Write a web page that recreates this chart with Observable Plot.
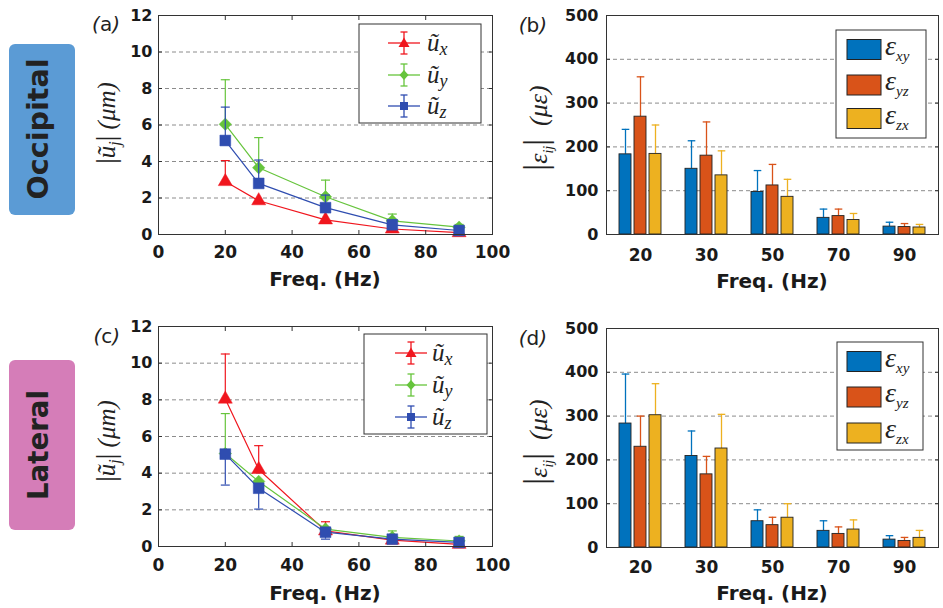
<!DOCTYPE html>
<html><head><meta charset="utf-8">
<script src="https://cdn.jsdelivr.net/npm/d3@7"></script>
<script src="https://cdn.jsdelivr.net/npm/@observablehq/plot@0.6"></script>
<style>
body{margin:0;background:#fff;}
#fig{position:relative;width:943px;height:608px;overflow:hidden;background:#fff;}
#fig > svg{position:absolute;}
</style></head><body><div id="fig"></div>
<script>
// ---------- data ----------
const freqs = [20, 30, 50, 70, 90];
const xTicksLine = [0, 20, 40, 60, 80, 100];
const yTicksLine = [0, 2, 4, 6, 8, 10, 12];
const gridLine = [2, 4, 6, 8, 10];
const yTicksBar = [0, 100, 200, 300, 400, 500];
const gridBar = [100, 200, 300, 400];

// (a) Occipital displacement |u_j| (um); error-bar ends (upper "Hi", lower "Lo")
const aUx = [2.9, 1.85, 0.8, 0.3, 0.1];
const aUxHi = [4.05, null, null, null, null];
const aUy = [6.04, 3.66, 2.07, 0.75, 0.4];
const aUyHi = [8.48, 5.31, 2.98, 1.12, 0.55];
const aUz = [5.15, 2.8, 1.47, 0.53, 0.22];
const aUzHi = [6.98, 4.08, 2.16, 0.8, 0.35];

// (c) Lateral displacement
const cUx = [8.04, 4.2, 0.85, 0.35, 0.12];
const cUxHi = [10.5, 5.5, 1.35, null, null];
const cUy = [5.07, 3.55, 0.95, 0.5, 0.3];
const cUyHi = [7.25, null, null, 0.85, 0.55];
const cUz = [5.04, 3.18, 0.78, 0.4, 0.22];
const cUzLo = [3.35, 2.04, 0.4, null, null];

// (b) Occipital strain |eps_ij| (micro-strain)
const bExy = [183, 150, 97, 38, 18];
const bExyHi = [240, 214, 146, 58, 28];
const bEyz = [269, 180, 112, 42, 17];
const bEyzHi = [360, 257, 160, 58, 25];
const bEzx = [184, 135, 86, 33, 16];
const bEzxHi = [250, 191, 126, 48, 23];

// (d) Lateral strain
const dExy = [283, 209, 60, 38, 18];
const dExyHi = [396, 266, 86, 61, 27];
const dEyz = [230, 167, 51, 31, 15];
const dEyzHi = [300, 208, 69, 47, 23];
const dEzx = [302, 226, 68, 41, 22];
const dEzxHi = [374, 304, 100, 63, 39];

// ---------- styles ----------
const RED = "#f0161e", GREEN = "#66c43c", BLUE = "#2f4db0";
const C_XY = "#0072bd", C_YZ = "#d95319", C_ZX = "#edb120";
const GRID = {stroke: "#8c8c8c", strokeDasharray: "4,3", strokeWidth: 1};
const capSymbol = {draw(ctx, size) { const w = Math.sqrt(size / Math.PI); ctx.moveTo(-w, 0); ctx.lineTo(w, 0); }};
const fig = document.getElementById("fig");

function place(svg, left, top) {
  svg.style.left = left + "px"; svg.style.top = top + "px";
  svg.style.maxWidth = "none"; svg.style.background = "transparent";
  fig.appendChild(svg);
}

function linePanel(series, m, left, top) {
  const marks = [Plot.ruleY(gridLine, GRID)];
  for (const s of series) {
    const data = freqs.map((f, i) => ({f, v: s.v[i], e: s.e[i]}));
    const err = data.filter(d => d.e != null);
    marks.push(Plot.line(data, {x: "f", y: "v", stroke: s.color, strokeWidth: 1.2}));
    marks.push(Plot.ruleX(err, {x: "f", y1: "v", y2: "e", stroke: s.color, strokeWidth: 1.2}));
    marks.push(Plot.dot(err, {x: "f", y: "e", symbol: capSymbol, r: 4.5, stroke: s.color, strokeWidth: 1.2, fill: "none"}));
    marks.push(Plot.dot(data, {x: "f", y: "v", symbol: s.symbol, r: s.r, fill: s.color, stroke: s.color, strokeWidth: 0.5}));
  }
  marks.push(
    Plot.frame({stroke: "#333", strokeWidth: 1}),
    Plot.axisX(xTicksLine, {anchor: "bottom", tickSize: 0, tickPadding: m.xPad, fontSize: 17, label: null}),
    Plot.axisX(xTicksLine, {anchor: "bottom", tickSize: 4, dy: -4, fill: "none", label: null, stroke: "#333"}),
    Plot.axisX(xTicksLine, {anchor: "top", tickSize: 4, dy: 4, fill: "none", label: null, stroke: "#333"}),
    Plot.axisY(yTicksLine, {anchor: "left", tickSize: 0, tickPadding: 6, fontSize: 16, label: null}),
    Plot.axisY(yTicksLine, {anchor: "left", tickSize: 4, dx: 4, fill: "none", label: null, stroke: "#333"}),
    Plot.axisY(yTicksLine, {anchor: "right", tickSize: 4, dx: -4, fill: "none", label: null, stroke: "#333"})
  );
  const svg = Plot.plot({
    width: m.w, height: m.h, marginLeft: m.l, marginRight: m.r, marginTop: m.t, marginBottom: m.b,
    x: {domain: [0, 100]}, y: {domain: [0, 12]},
    style: {fontFamily: "DejaVu Sans", fontWeight: "bold", color: "#1a1a1a", overflow: "visible"},
    marks
  });
  place(svg, left, top);
}

function barPanel(series, m, left, top) {
  const marks = [Plot.ruleY(gridBar, GRID)];
  for (const s of series) {
    const data = freqs.map((f, i) => ({f, v: s.v[i], e: s.e[i]}));
    marks.push(Plot.ruleX(data, {x: "f", y1: "v", y2: "e", stroke: s.color, strokeWidth: 1.3, dx: s.dx}));
    marks.push(Plot.dot(data, {x: "f", y: "e", symbol: capSymbol, r: 3.8, stroke: s.color, strokeWidth: 1.3, fill: "none", dx: s.dx}));
    marks.push(Plot.barY(data, {x: "f", y: "v", fill: s.color, stroke: "#222", strokeWidth: 0.9, dx: s.dx, insetLeft: 27, insetRight: 27}));
  }
  marks.push(
    Plot.frame({stroke: "#333", strokeWidth: 1}),
    Plot.axisX(freqs, {anchor: "bottom", tickSize: 0, tickPadding: m.xPad, fontSize: 17, label: null}),
    Plot.axisY(yTicksBar, {anchor: "left", tickSize: 0, tickPadding: 8, fontSize: 16, label: null}),
    Plot.axisY(yTicksBar, {anchor: "left", tickSize: 4, dx: 4, fill: "none", label: null, stroke: "#333"}),
    Plot.axisY(yTicksBar, {anchor: "right", tickSize: 4, dx: -4, fill: "none", label: null, stroke: "#333"})
  );
  const svg = Plot.plot({
    width: m.w, height: m.h, marginLeft: m.l, marginRight: m.r, marginTop: m.t, marginBottom: m.b,
    x: {type: "band", domain: freqs, padding: 0}, y: {domain: [0, 500]},
    style: {fontFamily: "DejaVu Sans", fontWeight: "bold", color: "#1a1a1a", overflow: "visible"},
    marks
  });
  place(svg, left, top);
}

const lineSeries = (ux, uxE, uy, uyE, uz, uzE) => [
  {v: ux, e: uxE, color: RED, symbol: "triangle", r: 5.2},
  {v: uy, e: uyE, color: GREEN, symbol: "diamond2", r: 5.6},
  {v: uz, e: uzE, color: BLUE, symbol: "square", r: 6.1}
];
const barSeries = (xy, xyE, yz, yzE, zx, zxE) => [
  {v: xy, e: xyE, color: C_XY, dx: -15},
  {v: yz, e: yzE, color: C_YZ, dx: 0},
  {v: zx, e: zxE, color: C_ZX, dx: 15}
];

linePanel(lineSeries(aUx, aUxHi, aUy, aUyHi, aUz, aUzHi), {w: 425, h: 300, l: 63, r: 28, t: 15, b: 66, xPad: 11}, 95, 0);
barPanel(barSeries(bExy, bExyHi, bEyz, bEyzHi, bEzx, bEzxHi), {w: 423, h: 300, l: 86, r: 5, t: 15, b: 66, xPad: 14}, 520, 0);
linePanel(lineSeries(cUx, cUxHi, cUy, cUyHi, cUz, cUzLo), {w: 425, h: 298, l: 63, r: 28, t: 16, b: 62, xPad: 12}, 95, 310);
barPanel(barSeries(dExy, dExyHi, dEyz, dEyzHi, dEzx, dEzxHi), {w: 423, h: 298, l: 86, r: 5, t: 18, b: 61, xPad: 13}, 520, 310);

// ---------- annotations: side boxes, panel letters, axis titles, legends ----------
const SERIF = "Liberation Serif";
function lineLegend(bx, by, bw, bh, ys, lx1, lx2, tx) {
  const subs = ["x", "y", "z"], cols = [RED, GREEN, BLUE];
  let s = `<rect x="${bx}" y="${by}" width="${bw}" height="${bh}" fill="#fff" stroke="#333" stroke-width="1"/>`;
  ys.forEach((y, i) => {
    const c = cols[i], mx = (lx1 + lx2) / 2;
    s += `<line x1="${lx1}" x2="${lx2}" y1="${y}" y2="${y}" stroke="${c}" stroke-width="1.3"/>`;
    s += `<line x1="${mx}" x2="${mx}" y1="${y - 11}" y2="${y + 11}" stroke="${c}" stroke-width="1.3"/>`;
    s += `<line x1="${mx - 3.5}" x2="${mx + 3.5}" y1="${y - 11}" y2="${y - 11}" stroke="${c}" stroke-width="1.3"/>`;
    s += `<line x1="${mx - 3.5}" x2="${mx + 3.5}" y1="${y + 11}" y2="${y + 11}" stroke="${c}" stroke-width="1.3"/>`;
    if (i === 0) s += `<path d="M${mx},${y - 5.5}L${mx + 5.5},${y + 4}L${mx - 5.5},${y + 4}Z" fill="${c}"/>`;
    if (i === 1) s += `<path d="M${mx},${y - 5}L${mx + 4.5},${y}L${mx},${y + 5}L${mx - 4.5},${y}Z" fill="${c}"/>`;
    if (i === 2) s += `<rect x="${mx - 4}" y="${y - 4}" width="8" height="8" fill="${c}"/>`;
    s += `<text x="${tx}" y="${y + 8}" font-family="${SERIF}" font-style="italic" font-size="25" fill="#222">ũ<tspan font-size="18" dy="4">${subs[i]}</tspan></text>`;
  });
  return s;
}
function barLegend(bx, by, bw, bh, ys) {
  const subs = ["xy", "yz", "zx"], cols = [C_XY, C_YZ, C_ZX];
  let s = `<rect x="${bx}" y="${by}" width="${bw}" height="${bh}" fill="#fff" stroke="#333" stroke-width="1"/>`;
  ys.forEach((y, i) => {
    s += `<rect x="847" y="${y - 10}" width="34" height="20" fill="${cols[i]}" stroke="#222" stroke-width="1"/>`;
    s += `<text x="885" y="${y + 5}" font-family="${SERIF}" font-style="italic" font-size="28" fill="#222">ε<tspan font-size="15" dy="6">${subs[i]}</tspan></text>`;
  });
  return s;
}
const uLabel = (x, y) => `<text transform="translate(${x},${y}) rotate(-90)" text-anchor="middle" font-family="${SERIF}" font-size="25" fill="#222"><tspan font-size="28">|</tspan><tspan font-style="italic">ũ</tspan><tspan font-style="italic" font-size="16" dy="5">j</tspan><tspan dy="-5" font-size="28">|</tspan><tspan font-style="italic"> (μm)</tspan></text>`;
const eLabel = (x, y) => `<text transform="translate(${x},${y}) rotate(-90)" text-anchor="middle" font-family="${SERIF}" font-size="26" fill="#222"><tspan font-size="34">|</tspan><tspan font-style="italic">ε</tspan><tspan font-style="italic" font-size="14" dy="6">ij</tspan><tspan dy="-6" font-size="34">|</tspan><tspan font-style="italic" xml:space="preserve">  (με)</tspan></text>`;
const letter = (x, y, l) => `<text x="${x}" y="${y}" text-anchor="end" font-family="DejaVu Sans" font-size="20" fill="#222"><tspan font-style="italic">(</tspan>${l}<tspan font-style="italic">)</tspan></text>`;
const freq = (x, y) => `<text x="${x}" y="${y}" text-anchor="middle" font-family="DejaVu Sans" font-weight="bold" font-size="20" fill="#1a1a1a">Freq. (Hz)</text>`;
const side = (y, h, cy, fill, label, len) =>
  `<rect x="9" y="${y}" width="66" height="${h}" rx="6" fill="${fill}"/>` +
  `<text transform="translate(48,${cy}) rotate(-90)" text-anchor="middle" font-family="DejaVu Sans" font-weight="bold" font-size="29" textLength="${len}" lengthAdjust="spacingAndGlyphs" fill="#222">${label}</text>`;

const ov = `<svg id="overlay" width="943" height="608" style="left:0;top:0" xmlns="http://www.w3.org/2000/svg">
${side(44, 171, 129, "#5b9bd5", "Occipital", 141)}
${side(360, 170, 445, "#d57db8", "Lateral", 110)}
${letter(120, 31, "a")}${letter(547, 32, "b")}${letter(120, 343, "c")}${letter(547, 345, "d")}
${uLabel(115, 123)}${uLabel(115, 441)}
${eLabel(547, 128)}${eLabel(547, 442)}
${freq(325, 286)}${freq(772, 288)}${freq(325, 600)}${freq(772, 600)}
${lineLegend(359, 24, 122, 99, [43, 75, 106], 388, 420, 427)}
${lineLegend(364, 334, 123, 100, [353, 385, 417], 395, 427, 432)}
${barLegend(836, 30, 90, 108, [49.5, 85, 118.5])}
${barLegend(837, 342, 86, 108, [361.5, 397, 433])}
</svg>`;
fig.insertAdjacentHTML("beforeend", ov);
</script></body></html>
